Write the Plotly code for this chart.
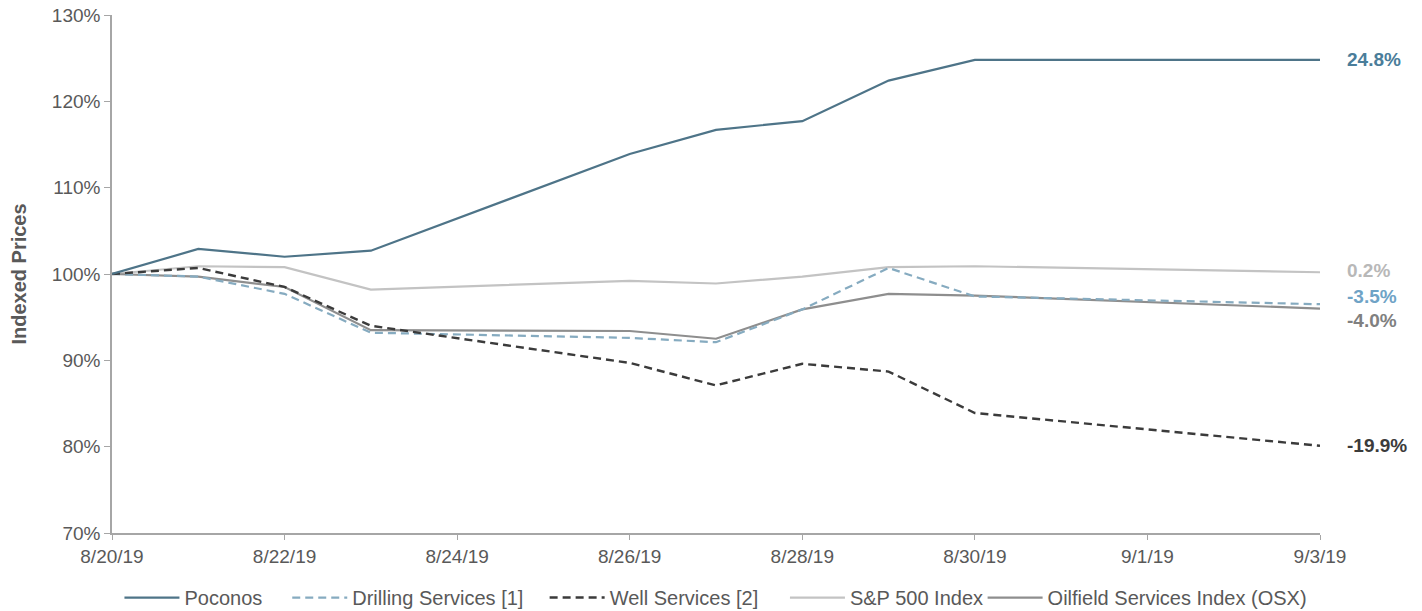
import plotly.graph_objects as go

# Trading days in the window
dates = ["2019-08-20", "2019-08-21", "2019-08-22", "2019-08-23", "2019-08-26",
         "2019-08-27", "2019-08-28", "2019-08-29", "2019-08-30", "2019-09-03"]

# Indexed prices (%), base = 100 on 8/20/19
poconos = [100.0, 102.9, 102.0, 102.7, 113.9, 116.7, 117.7, 122.4, 124.8, 124.8]
drilling = [100.0, 99.7, 97.7, 93.2, 92.6, 92.1, 95.9, 100.7, 97.4, 96.5]
well = [100.0, 100.7, 98.5, 94.0, 89.7, 87.1, 89.6, 88.7, 83.9, 80.1]
sp500 = [100.0, 100.9, 100.8, 98.2, 99.2, 98.9, 99.7, 100.8, 100.9, 100.2]
osx = [100.0, 99.7, 98.5, 93.5, 93.4, 92.5, 95.9, 97.7, 97.5, 96.0]

end_labels = ["24.8%", "-3.5%", "-19.9%", "0.2%", "-4.0%"]
series_names = ["Poconos", "Drilling Services [1]", "Well Services [2]",
                "S&P 500 Index", "Oilfield Services Index (OSX)"]

FONT = "Liberation Sans, Arial, sans-serif"
line_colors = ["#4e7488", "#86abc0", "#3b3b3b", "#c3c3c3", "#8e8e8e"]
label_colors = ["#4a7d9a", "#6fa3c6", "#3b3b3b", "#b8b8b8", "#808080"]
dashes = ["solid", "8px,5px", "8px,5px", "solid", "solid"]
widths = [2.2, 2.2, 2.4, 2.2, 2.2]
# vertical nudges (px, up is positive) keep the close end labels apart
label_shift = [0, 8, 0, 2, -12]
# left edge of each legend entry, as a fraction of the page width
legend_x = [0.084, 0.202, 0.383, 0.552, 0.691]
legend_ids = ["legend", "legend2", "legend3", "legend4", "legend5"]

fig = go.Figure()
all_series = [poconos, drilling, well, sp500, osx]
# Draw order so the darker lines sit on top of the light ones
order = [3, 4, 1, 2, 0]
for i in order:
    fig.add_trace(go.Scatter(
        x=dates, y=all_series[i], mode="lines", name=series_names[i],
        line=dict(color=line_colors[i], width=widths[i], dash=dashes[i]),
        legend=legend_ids[i],
    ))

for i, vals in enumerate(all_series):
    fig.add_annotation(
        x=dates[-1], y=vals[-1], text="<b>" + end_labels[i] + "</b>",
        showarrow=False, xanchor="left", xshift=25, yshift=label_shift[i],
        font=dict(size=19, color=label_colors[i], family=FONT),
    )

legend_style = dict(orientation="h", xref="container", yref="container",
                    xanchor="left", yanchor="middle", y=0.022,
                    itemwidth=55, bgcolor="rgba(0,0,0,0)",
                    font=dict(size=20, color="#595959", family=FONT))
layout_legends = {lid: dict(legend_style, x=legend_x[k]) for k, lid in enumerate(legend_ids)}

fig.update_layout(
    width=1422, height=611,
    margin=dict(l=112, r=102, t=15, b=78),
    paper_bgcolor="white", plot_bgcolor="white",
    font=dict(family=FONT, size=19, color="#595959"),
    showlegend=True,
    xaxis=dict(
        type="date", range=["2019-08-20", "2019-09-03"], automargin=False,
        tick0="2019-08-20", dtick=2 * 86400000, tickformat="%-m/%-d/%y",
        showgrid=False, zeroline=False, showline=True, linecolor="#a6a6a6",
        linewidth=1.5, ticks="outside", ticklen=5, tickcolor="#a6a6a6",
        tickfont=dict(size=19, color="#595959"),
    ),
    yaxis=dict(
        range=[70, 130], dtick=10, ticksuffix="%", automargin=False,
        showgrid=False, zeroline=False, showline=True, linecolor="#a6a6a6",
        linewidth=1.5, ticks="outside", ticklen=6, tickcolor="#a6a6a6",
        tickfont=dict(size=19, color="#595959"),
        title=dict(text="<b>Indexed Prices</b>", standoff=20,
                   font=dict(size=20, color="#595959")),
    ),
    **layout_legends,
)

fig.write_html("out.html")
